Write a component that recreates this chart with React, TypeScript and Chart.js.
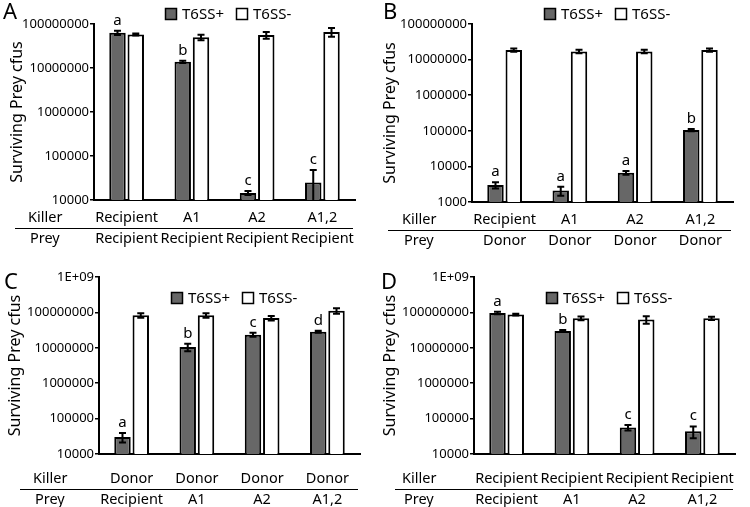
import React, { useEffect, useRef } from "react";
import { Chart, registerables } from "chart.js";

Chart.register(...registerables);

// ---------- DATA ----------
const seriesNames = ["T6SS+", "T6SS-"];

// Panel A
const killerA = ["Recipient", "A1", "A2", "A1,2"];
const preyA = ["Recipient", "Recipient", "Recipient", "Recipient"];
const plusA = [63000000, 13800000, 14500, 25000];
const plusErrA = [7000000, 800000, 1500, 23000];
const minusA = [58000000, 50000000, 56000000, 66000000];
const minusErrA = [3000000, 7000000, 10000000, 15000000];
const lettersA = ["a", "b", "c", "c"];
const yTicksA = [10000, 100000, 1000000, 10000000, 100000000];
const yTickLabelsA = ["10000", "100000", "1000000", "10000000", "100000000"];

// Panel B
const killerB = ["Recipient", "A1", "A2", "A1,2"];
const preyB = ["Donor", "Donor", "Donor", "Donor"];
const plusB = [3000, 2100, 6600, 105000];
const plusErrB = [600, 600, 800, 8000];
const minusB = [18500000, 17000000, 17000000, 18500000];
const minusErrB = [2000000, 2000000, 2000000, 2000000];
const lettersB = ["a", "a", "a", "b"];
const yTicksB = [1000, 10000, 100000, 1000000, 10000000, 100000000];
const yTickLabelsB = ["1000", "10000", "100000", "1000000", "10000000", "100000000"];

// Panel C
const killerC = ["Donor", "Donor", "Donor", "Donor"];
const preyC = ["Recipient", "A1", "A2", "A1,2"];
const plusC = [30000, 10500000, 23500000, 28500000];
const plusErrC = [9000, 2500000, 3000000, 2000000];
const minusC = [83000000, 83000000, 69000000, 112000000];
const minusErrC = [12000000, 12000000, 10000000, 20000000];
const lettersC = ["a", "b", "c", "d"];
const yTicksC = [10000, 100000, 1000000, 10000000, 100000000, 1000000000];
const yTickLabelsC = ["10000", "100000", "1000000", "10000000", "100000000", "1E+09"];

// Panel D
const killerD = ["Recipient", "Recipient", "Recipient", "Recipient"];
const preyD = ["Recipient", "A1", "A2", "A1,2"];
const plusD = [96000000, 30000000, 56000, 44000];
const plusErrD = [8000000, 2000000, 10000, 16000];
const minusD = [87000000, 68000000, 63000000, 68000000];
const minusErrD = [5000000, 8000000, 15000000, 7000000];
const lettersD = ["a", "b", "c", "c"];
const yTicksD = [10000, 100000, 1000000, 10000000, 100000000, 1000000000];
const yTickLabelsD = ["10000", "100000", "1000000", "10000000", "100000000", "1E+09"];

// ---------- STYLE ----------
const FONT = "'Noto Sans', 'Open Sans', sans-serif";
const DARK = "#676767";
const BLACK = "#000000";

type PanelCfg = {
  letter: string;
  killer: string[];
  prey: string[];
  plus: number[];
  plusErr: number[];
  minus: number[];
  minusErr: number[];
  letters: string[];
  yTicks: number[];
  yTickLabels: string[];
  left: number;
  top: number;
  width: number;
  height: number;
  area: { left: number; right: number; top: number; bottom: number };
  legendY: number;
  legendX: number;
  tickPad: number;
  titlePad: number;
  rowLabelX: number;
  lineX0: number;
  letterX: number;
  letterY: number;
};

const panels: PanelCfg[] = [
  {
    letter: "A", killer: killerA, prey: preyA, plus: plusA, plusErr: plusErrA, minus: minusA, minusErr: minusErrA,
    letters: lettersA, yTicks: yTicksA, yTickLabels: yTickLabelsA,
    left: 0, top: 0, width: 375, height: 250,
    area: { left: 94, right: 355, top: 24, bottom: 200 },
    legendY: 14, legendX: 165, tickPad: 7, titlePad: 8, rowLabelX: 28, lineX0: 15,
    letterX: 3, letterY: 13,
  },
  {
    letter: "B", killer: killerB, prey: preyB, plus: plusB, plusErr: plusErrB, minus: minusB, minusErr: minusErrB,
    letters: lettersB, yTicks: yTicksB, yTickLabels: yTickLabelsB,
    left: 375, top: 0, width: 375, height: 250,
    area: { left: 97, right: 358, top: 24, bottom: 202 },
    legendY: 14, legendX: 169, tickPad: 7, titlePad: 6, rowLabelX: 27, lineX0: 13,
    letterX: 8, letterY: 13,
  },
  {
    letter: "C", killer: killerC, prey: preyC, plus: plusC, plusErr: plusErrC, minus: minusC, minusErr: minusErrC,
    letters: lettersC, yTicks: yTicksC, yTickLabels: yTickLabelsC,
    left: 0, top: 250, width: 375, height: 257,
    area: { left: 99, right: 360, top: 27, bottom: 204 },
    legendY: 48, legendX: 171, tickPad: 14, titlePad: 6, rowLabelX: 33, lineX0: 20,
    letterX: 4, letterY: 33,
  },
  {
    letter: "D", killer: killerD, prey: preyD, plus: plusD, plusErr: plusErrD, minus: minusD, minusErr: minusErrD,
    letters: lettersD, yTicks: yTicksD, yTickLabels: yTickLabelsD,
    left: 375, top: 250, width: 375, height: 257,
    area: { left: 99, right: 360, top: 27, bottom: 204 },
    legendY: 48, legendX: 171, tickPad: 14, titlePad: 6, rowLabelX: 27, lineX0: 20,
    letterX: 6, letterY: 33,
  },
];

const CAT_FONT = 14.5;
const CAT_LINE = 21;

function makeChart(canvas: HTMLCanvasElement, p: PanelCfg) {
  const errs = [p.plusErr, p.minusErr];

  const decorPlugin = {
    id: "decor",
    afterDatasetsDraw(chart: any) {
      const ctx = chart.ctx as CanvasRenderingContext2D;
      const ys = chart.scales.y;
      const ca = chart.chartArea;
      ctx.save();
      // error bars
      chart.data.datasets.forEach((ds: any, di: number) => {
        const meta = chart.getDatasetMeta(di);
        meta.data.forEach((bar: any, j: number) => {
          const v = ds.data[j];
          const e = errs[di][j];
          const yTop = ys.getPixelForValue(v + e);
          const lo = v - e;
          let yBot = lo > ys.min ? ys.getPixelForValue(lo) : ca.bottom;
          yBot = Math.min(yBot, ca.bottom);
          ctx.strokeStyle = BLACK;
          ctx.lineWidth = 2;
          ctx.beginPath();
          ctx.moveTo(bar.x, yTop);
          ctx.lineTo(bar.x, yBot);
          ctx.moveTo(bar.x - 3.5, yTop);
          ctx.lineTo(bar.x + 3.5, yTop);
          if (lo > ys.min) {
            ctx.moveTo(bar.x - 3.5, yBot);
            ctx.lineTo(bar.x + 3.5, yBot);
          }
          ctx.stroke();
        });
      });
      // significance letters over first series
      const meta0 = chart.getDatasetMeta(0);
      ctx.fillStyle = BLACK;
      ctx.font = `15px ${FONT}`;
      ctx.textAlign = "center";
      ctx.textBaseline = "alphabetic";
      meta0.data.forEach((bar: any, j: number) => {
        const v = chart.data.datasets[0].data[j];
        const yTop = Math.min(ys.getPixelForValue(v + errs[0][j]), bar.y);
        ctx.fillText(p.letters[j], bar.x, yTop - 6);
      });
      ctx.restore();
    },
    afterDraw(chart: any) {
      const ctx = chart.ctx as CanvasRenderingContext2D;
      const ca = chart.chartArea;
      ctx.save();
      // panel letter
      ctx.fillStyle = BLACK;
      ctx.font = `22px ${FONT}`;
      ctx.textAlign = "left";
      ctx.textBaseline = "middle";
      ctx.fillText(p.letter, p.letterX, p.letterY);
      // legend
      const ds = chart.data.datasets;
      ctx.font = `15px ${FONT}`;
      let x = p.legendX;
      ds.forEach((d: any) => {
        ctx.fillStyle = d.backgroundColor;
        ctx.strokeStyle = BLACK;
        ctx.lineWidth = 1.5;
        ctx.fillRect(x + 0.5, p.legendY - 5.5, 11, 11);
        ctx.strokeRect(x + 0.5, p.legendY - 5.5, 11, 11);
        ctx.fillStyle = BLACK;
        ctx.textBaseline = "middle";
        ctx.fillText(d.label, x + 17, p.legendY + 0.5);
        x += 71;
      });
      // Killer / Prey rows
      const y1 = ca.bottom + p.tickPad + CAT_LINE / 2;
      const y2 = y1 + CAT_LINE;
      ctx.font = `${CAT_FONT}px ${FONT}`;
      ctx.textAlign = "left";
      ctx.textBaseline = "middle";
      ctx.fillText("Killer", p.rowLabelX, y1);
      ctx.fillText("Prey", p.rowLabelX + 2, y2);
      ctx.strokeStyle = BLACK;
      ctx.lineWidth = 1;
      ctx.beginPath();
      const ly = Math.round((y1 + y2) / 2) + 0.5;
      ctx.moveTo(p.lineX0, ly);
      ctx.lineTo(ca.right - 2, ly);
      ctx.stroke();
      ctx.restore();
    },
  };

  return new Chart(canvas, {
    type: "bar",
    data: {
      labels: p.killer.map((k, i) => [k, p.prey[i]]),
      datasets: [
        {
          label: seriesNames[0],
          data: p.plus,
          backgroundColor: DARK,
          borderColor: BLACK,
          borderWidth: 2,
          categoryPercentage: 0.56,
          barPercentage: 0.9,
        },
        {
          label: seriesNames[1],
          data: p.minus,
          backgroundColor: "#ffffff",
          borderColor: BLACK,
          borderWidth: 2,
          categoryPercentage: 0.56,
          barPercentage: 0.9,
        },
      ],
    },
    options: {
      responsive: false,
      animation: false,
      events: [],
      layout: {
        padding: {
          left: 0,
          top: p.area.top,
          right: p.width - p.area.right,
          bottom: 0,
        },
      },
      plugins: {
        legend: { display: false },
        tooltip: { enabled: false },
        title: { display: false },
      },
      scales: {
        x: {
          type: "category",
          offset: true,
          grid: { display: false, drawTicks: false },
          border: { display: true, color: BLACK, width: 2 },
          ticks: {
            autoSkip: false,
            maxRotation: 0,
            minRotation: 0,
            padding: p.tickPad,
            color: BLACK,
            font: { family: FONT, size: CAT_FONT, lineHeight: CAT_LINE / CAT_FONT },
          },
          afterFit: (s: any) => {
            s.height = p.height - p.area.bottom;
          },
        },
        y: {
          type: "logarithmic",
          min: p.yTicks[0],
          max: p.yTicks[p.yTicks.length - 1],
          afterBuildTicks: (s: any) => {
            s.ticks = p.yTicks.map((v) => ({ value: v, major: true }));
          },
          afterFit: (s: any) => {
            s.width = p.area.left;
          },
          grid: {
            display: true,
            drawOnChartArea: false,
            drawTicks: true,
            tickLength: 4,
            color: BLACK,
            lineWidth: 1.5,
          },
          border: { display: true, color: BLACK, width: 2 },
          ticks: {
            padding: 1,
            color: BLACK,
            font: { family: FONT, size: 13 },
            callback: (_v: any, i: number) => p.yTickLabels[i],
          },
          title: {
            display: true,
            text: "Surviving Prey cfus",
            color: BLACK,
            font: { family: FONT, size: 16 },
            padding: { top: p.titlePad, bottom: 0 },
          },
        },
      },
    },
    plugins: [decorPlugin],
  } as any);
}

function Panel({ cfg }: { cfg: PanelCfg }) {
  const ref = useRef<HTMLCanvasElement | null>(null);
  useEffect(() => {
    if (!ref.current) return;
    const c = makeChart(ref.current, cfg);
    return () => c.destroy();
  }, [cfg]);
  return (
    <canvas
      ref={ref}
      width={cfg.width}
      height={cfg.height}
      style={{
        position: "absolute",
        left: cfg.left,
        top: cfg.top,
        width: cfg.width,
        height: cfg.height,
      }}
    />
  );
}

export default function App() {
  return (
    <div
      style={{
        position: "absolute",
        left: 0,
        top: 0,
        width: 750,
        height: 507,
        background: "#ffffff",
        overflow: "hidden",
      }}
    >
      {panels.map((p) => (
        <Panel key={p.letter} cfg={p} />
      ))}
    </div>
  );
}
